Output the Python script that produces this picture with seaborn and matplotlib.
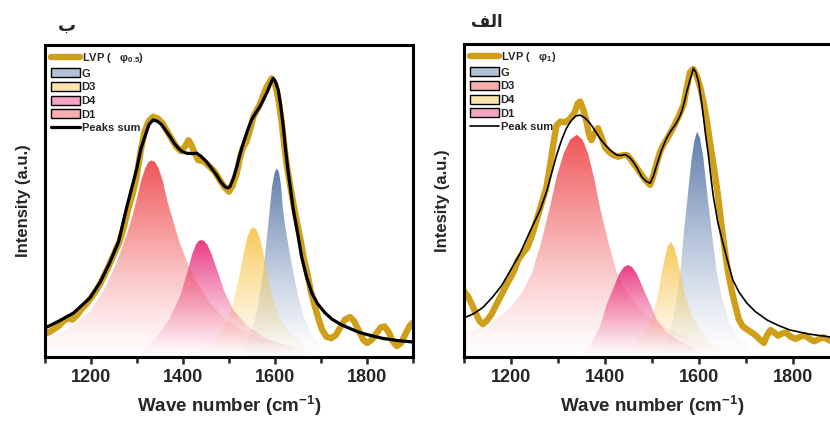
import matplotlib
matplotlib.use('Agg')
import numpy as np
import seaborn as sns
from matplotlib import pyplot as plt
from matplotlib.colors import to_rgb
from matplotlib.lines import Line2D
from matplotlib.patches import Patch
from matplotlib.ticker import MultipleLocator

# ---- panel "ب" (left) ----
lvp_b_x = [1100, 1110, 1120, 1130, 1140, 1150, 1160, 1170, 1180, 1190, 1200, 1210, 1220, 1235,
           1250, 1262, 1272, 1280, 1290, 1298, 1308, 1316, 1325, 1335, 1345, 1355, 1365, 1375,
           1385, 1395, 1404, 1412, 1418, 1425, 1433, 1445, 1458, 1469, 1480, 1490, 1500, 1508,
           1517, 1524, 1530, 1538, 1546, 1553, 1560, 1567, 1575, 1582, 1593, 1600, 1607, 1614,
           1620, 1625, 1633, 1640, 1648, 1655, 1662, 1670, 1678, 1687, 1695, 1703, 1712, 1722,
           1732, 1742, 1752, 1763, 1772, 1782, 1792, 1800, 1810, 1820, 1830, 1838, 1847, 1856,
           1865, 1874, 1884, 1893, 1900, 1905]
lvp_b_y = [0.075, 0.08, 0.09, 0.10, 0.115, 0.125, 0.12, 0.135, 0.155, 0.17, 0.19, 0.21, 0.235, 0.28,
           0.33, 0.37, 0.42, 0.47, 0.52, 0.57, 0.66, 0.72, 0.755, 0.77, 0.765, 0.75, 0.725, 0.70,
           0.675, 0.66, 0.674, 0.695, 0.68, 0.655, 0.631, 0.628, 0.61, 0.594, 0.567, 0.545, 0.53, 0.55,
           0.59, 0.64, 0.67, 0.69, 0.73, 0.77, 0.79, 0.81, 0.84, 0.866, 0.893, 0.875, 0.83, 0.76,
           0.68, 0.62, 0.55, 0.49, 0.43, 0.38, 0.32, 0.27, 0.21, 0.16, 0.12, 0.085, 0.065, 0.06,
           0.07, 0.095, 0.12, 0.128, 0.115, 0.085, 0.055, 0.045, 0.055, 0.075, 0.095, 0.098, 0.08, 0.05,
           0.035, 0.045, 0.075, 0.10, 0.11, 0.11]
sum_b_x = [1100, 1130, 1162, 1198, 1220, 1240, 1260, 1278, 1290, 1299, 1308, 1317, 1326, 1335,
           1345, 1354, 1363, 1372, 1381, 1390, 1399, 1408, 1420, 1430, 1440, 1451, 1462, 1473,
           1482, 1491, 1497, 1502, 1510, 1517, 1524, 1531, 1540, 1549, 1558, 1567, 1576, 1585,
           1591, 1596, 1601, 1607, 1612, 1618, 1623, 1629, 1635, 1640, 1650, 1658, 1668, 1680,
           1693, 1709, 1725, 1745, 1765, 1781, 1805, 1833, 1865, 1900]
sum_b_y = [0.093, 0.115, 0.141, 0.19, 0.24, 0.30, 0.37, 0.482, 0.55, 0.60, 0.665, 0.706, 0.745, 0.76,
           0.755, 0.744, 0.725, 0.706, 0.685, 0.669, 0.658, 0.653, 0.652, 0.653, 0.642, 0.626, 0.605, 0.583,
           0.562, 0.546, 0.542, 0.546, 0.575, 0.61, 0.65, 0.685, 0.725, 0.76, 0.782, 0.802, 0.828, 0.856,
           0.878, 0.893, 0.882, 0.856, 0.81, 0.738, 0.665, 0.589, 0.525, 0.471, 0.39, 0.32, 0.26, 0.205,
           0.17, 0.141, 0.12, 0.103, 0.09, 0.08, 0.07, 0.06, 0.053, 0.048]
g_b_x = [1520, 1540, 1555, 1565, 1574, 1580, 1585, 1589, 1594, 1599, 1604, 1609, 1613, 1617,
         1622, 1630, 1640, 1650, 1662, 1680, 1700, 1720]
g_b_y = [0.0, 0.05, 0.11, 0.18, 0.27, 0.35, 0.42, 0.48, 0.55, 0.59, 0.605, 0.59, 0.55, 0.48,
         0.42, 0.35, 0.27, 0.20, 0.13, 0.07, 0.03, 0.0]
d3_b_x = [1440, 1470, 1495, 1510, 1524, 1533, 1540, 1547, 1553, 1559, 1566, 1574, 1582, 1595,
          1610, 1630, 1660, 1700]
d3_b_y = [0.0, 0.05, 0.11, 0.18, 0.27, 0.34, 0.385, 0.41, 0.415, 0.41, 0.385, 0.34, 0.27, 0.19,
          0.13, 0.08, 0.04, 0.0]
d4_b_x = [1300, 1340, 1370, 1395, 1411, 1420, 1428, 1434, 1440, 1446, 1453, 1462, 1474, 1490,
          1510, 1540, 1580, 1640, 1700]
d4_b_y = [0.0, 0.06, 0.12, 0.20, 0.28, 0.33, 0.36, 0.372, 0.375, 0.372, 0.36, 0.33, 0.28, 0.21,
          0.15, 0.10, 0.06, 0.03, 0.0]
d1_b_x = [1100, 1150, 1200, 1230, 1255, 1275, 1288, 1300, 1310, 1318, 1325, 1332, 1339, 1347,
          1356, 1366, 1378, 1392, 1410, 1430, 1460, 1500, 1550, 1600, 1700]
d1_b_y = [0.06, 0.09, 0.15, 0.22, 0.30, 0.38, 0.44, 0.51, 0.57, 0.605, 0.625, 0.63, 0.625, 0.605,
          0.565, 0.50, 0.44, 0.37, 0.30, 0.24, 0.17, 0.11, 0.07, 0.05, 0.0]

# ---- panel "الف" (right) ----
lvp_a_x = [1100, 1108, 1116, 1125, 1133, 1140, 1148, 1158, 1168, 1180, 1192, 1205, 1215, 1224,
           1235, 1245, 1255, 1265, 1275, 1283, 1290, 1297, 1305, 1315, 1325, 1335, 1342, 1347,
           1354, 1361, 1366, 1371, 1378, 1385, 1392, 1400, 1409, 1418, 1428, 1439, 1447, 1453,
           1464, 1475, 1486, 1496, 1503, 1510, 1517, 1524, 1535, 1546, 1557, 1567, 1574, 1581,
           1588, 1596, 1603, 1610, 1617, 1624, 1631, 1640, 1648, 1655, 1662, 1670, 1678, 1685,
           1692, 1700, 1710, 1720, 1730, 1738, 1745, 1752, 1760, 1768, 1776, 1785, 1795, 1805,
           1815, 1825, 1835, 1845, 1855, 1865, 1875, 1885, 1895, 1900]
lvp_a_y = [0.21, 0.195, 0.17, 0.14, 0.115, 0.105, 0.115, 0.135, 0.165, 0.20, 0.235, 0.27, 0.31, 0.33,
           0.35, 0.39, 0.44, 0.49, 0.54, 0.61, 0.68, 0.74, 0.752, 0.75, 0.76, 0.78, 0.81, 0.816,
           0.79, 0.75, 0.71, 0.693, 0.715, 0.731, 0.705, 0.67, 0.655, 0.645, 0.64, 0.645, 0.645, 0.635,
           0.612, 0.588, 0.565, 0.55, 0.58, 0.62, 0.655, 0.677, 0.705, 0.735, 0.77, 0.805, 0.86, 0.91,
           0.92, 0.895, 0.86, 0.81, 0.752, 0.68, 0.613, 0.52, 0.42, 0.34, 0.27, 0.21, 0.16, 0.12,
           0.10, 0.09, 0.08, 0.07, 0.055, 0.045, 0.07, 0.086, 0.078, 0.068, 0.075, 0.078, 0.065, 0.058,
           0.064, 0.07, 0.058, 0.05, 0.057, 0.063, 0.055, 0.048, 0.055, 0.058]
sum_a_x = [1100, 1120, 1140, 1160, 1180, 1200, 1219, 1240, 1262, 1276, 1287, 1297, 1308, 1318,
           1328, 1338, 1347, 1358, 1368, 1378, 1389, 1400, 1411, 1425, 1434, 1443, 1452, 1460,
           1469, 1478, 1487, 1496, 1503, 1510, 1520, 1531, 1540, 1549, 1557, 1563, 1568, 1574,
           1581, 1588, 1593, 1599, 1604, 1609, 1614, 1620, 1625, 1630, 1640, 1651, 1662, 1672,
           1686, 1702, 1720, 1745, 1770, 1794, 1835, 1879, 1900]
sum_a_y = [0.125, 0.138, 0.158, 0.19, 0.228, 0.28, 0.33, 0.40, 0.47, 0.53, 0.59, 0.645, 0.695, 0.731,
           0.755, 0.77, 0.773, 0.763, 0.747, 0.725, 0.699, 0.678, 0.661, 0.645, 0.644, 0.647, 0.638, 0.624,
           0.602, 0.576, 0.562, 0.555, 0.578, 0.613, 0.66, 0.699, 0.722, 0.741, 0.762, 0.784, 0.81, 0.848,
           0.886, 0.922, 0.91, 0.88, 0.83, 0.773, 0.71, 0.645, 0.58, 0.518, 0.43, 0.364, 0.30, 0.246,
           0.205, 0.172, 0.145, 0.118, 0.10, 0.086, 0.073, 0.064, 0.06]
g_a_x = [1510, 1530, 1545, 1553, 1560, 1568, 1577, 1584, 1590, 1596, 1602, 1609, 1617, 1627,
         1638, 1650, 1665, 1685, 1710, 1730]
g_a_y = [0.0, 0.05, 0.12, 0.19, 0.27, 0.40, 0.53, 0.63, 0.69, 0.72, 0.70, 0.64, 0.53, 0.40,
         0.27, 0.18, 0.11, 0.06, 0.02, 0.0]
d3_a_x = [1100, 1150, 1200, 1225, 1245, 1265, 1283, 1298, 1312, 1326, 1340, 1352, 1364, 1377,
          1389, 1405, 1425, 1445, 1470, 1500, 1550, 1600, 1700]
d3_a_y = [0.08, 0.10, 0.16, 0.21, 0.27, 0.37, 0.48, 0.58, 0.65, 0.695, 0.71, 0.695, 0.65, 0.57,
          0.48, 0.38, 0.27, 0.21, 0.16, 0.12, 0.08, 0.05, 0.0]
d4_a_x = [1440, 1470, 1490, 1505, 1514, 1521, 1528, 1534, 1540, 1546, 1553, 1560, 1570, 1585,
          1605, 1630, 1680]
d4_a_y = [0.0, 0.05, 0.09, 0.15, 0.21, 0.27, 0.32, 0.355, 0.367, 0.355, 0.32, 0.27, 0.20, 0.13,
          0.08, 0.04, 0.0]
d1_a_x = [1340, 1370, 1390, 1404, 1418, 1430, 1440, 1449, 1458, 1468, 1481, 1496, 1510, 1530,
          1560, 1600, 1640]
d1_a_y = [0.0, 0.04, 0.10, 0.17, 0.22, 0.265, 0.287, 0.294, 0.287, 0.265, 0.22, 0.17, 0.12, 0.08,
          0.05, 0.02, 0.0]

GOLD = "#CF9F1A"
C_BLUE = "#5676A6"
C_YEL = "#F7C64E"
C_MAG = "#E8307A"
C_RED = "#EF4B4E"

sns.set_style("white")
plt.rcParams['font.family'] = ['Liberation Sans', 'DejaVu Sans']
plt.rcParams['font.weight'] = 'bold'
plt.rcParams['mathtext.default'] = 'regular'


def gradient_peak(ax, xs, ys, color, z):
    xs = np.asarray(xs, float)
    ys = np.asarray(ys, float)
    poly = ax.fill_between(xs, 0, ys, color='none', lw=0)
    rgb = to_rgb(color)
    grad = np.zeros((200, 1, 4))
    grad[..., :3] = rgb
    grad[..., 3] = (np.linspace(0, 1, 200) ** 1.2)[:, None] * 0.95
    im = ax.imshow(grad, extent=[xs.min(), xs.max(), 0, ys.max()], origin='lower',
                   aspect='auto', zorder=z, interpolation='bilinear')
    im.set_clip_path(poly.get_paths()[0], transform=ax.transData)


def light(color, f=0.55):
    r, g, b = to_rgb(color)
    return (r + (1 - r) * f, g + (1 - g) * f, b + (1 - b) * f)


def panel(ax, lvp_x, lvp_y, sum_x, sum_y, peaks, lvp_label, sum_label, sum_lw, ylabel):
    for xs, ys, c, lab in peaks:
        gradient_peak(ax, xs, ys, c, 1)
    sns.lineplot(x=lvp_x, y=lvp_y, ax=ax, color=GOLD, lw=4.6, estimator=None, sort=False,
                 zorder=2, solid_joinstyle='round', solid_capstyle='round')
    sns.lineplot(x=sum_x, y=sum_y, ax=ax, color='black', lw=sum_lw, estimator=None, sort=False,
                 zorder=3, solid_joinstyle='round')
    ax.set_xlim(1100, 1900)
    ax.set_ylim(0, 1)
    ax.set_yticks([])
    ax.xaxis.set_major_locator(MultipleLocator(200))
    ax.xaxis.set_minor_locator(MultipleLocator(100))
    ax.tick_params(axis='x', which='both', direction='out', bottom=True, width=1.8, labelsize=13)
    ax.tick_params(axis='x', which='major', length=5)
    ax.tick_params(axis='x', which='minor', length=4)
    for s in ax.spines.values():
        s.set_linewidth(2.2)
        s.set_color('black')
    ax.set_xlabel("Wave number (cm$^{-1}$)", fontsize=13.5, fontweight='bold', labelpad=6)
    ax.set_ylabel(ylabel, fontsize=12, fontweight='bold', labelpad=10)
    handles = [Line2D([], [], color=GOLD, lw=4.6, label=lvp_label)]
    for xs, ys, c, lab in peaks:
        handles.append(Patch(facecolor=light(c), edgecolor='black', lw=1.0, label=lab))
    handles.append(Line2D([], [], color='black', lw=sum_lw, label=sum_label))
    ax.legend(handles=handles, loc='upper left', frameon=False, prop={'size': 8, 'weight': 'bold'},
              handlelength=2.6, handleheight=0.85, handletextpad=0.15, labelspacing=0.3,
              borderaxespad=0.3, borderpad=0.25)


fig = plt.figure(figsize=(8.3, 4.23), dpi=100)
ax_b = fig.add_axes([45 / 830, 66 / 423, 368 / 830, 312 / 423])
ax_a = fig.add_axes([464 / 830, 66 / 423, 376 / 830, 313 / 423])

panel(ax_b, lvp_b_x, lvp_b_y, sum_b_x, sum_b_y,
      [(g_b_x, g_b_y, C_BLUE, "G"), (d3_b_x, d3_b_y, C_YEL, "D3"),
       (d4_b_x, d4_b_y, C_MAG, "D4"), (d1_b_x, d1_b_y, C_RED, "D1")],
      r"LVP (   $\varphi_{0.5}$)", "Peaks sum", 2.3, "Intensity (a.u.)")
panel(ax_a, lvp_a_x, lvp_a_y, sum_a_x, sum_a_y,
      [(g_a_x, g_a_y, C_BLUE, "G"), (d3_a_x, d3_a_y, C_RED, "D3"),
       (d4_a_x, d4_a_y, C_YEL, "D4"), (d1_a_x, d1_a_y, C_MAG, "D1")],
      r"LVP (   $\varphi_{1}$)", "Peak sum", 1.2, "Intesity (a.u.)")

# matplotlib does no Arabic shaping, so the joined (presentation) forms of "الف" are given
# in visual left-to-right order
fig.text(67 / 830, 1 - 26 / 423, "ب", ha='center', va='center', fontsize=13,
         fontweight='bold', family='DejaVu Sans')
fig.text(487 / 830, 1 - 22 / 423, "\ufed2\ufedf\ufe8d", ha='center', va='center', fontsize=12,
         fontweight='bold', family='DejaVu Sans')

plt.savefig("out.png", dpi=100)
